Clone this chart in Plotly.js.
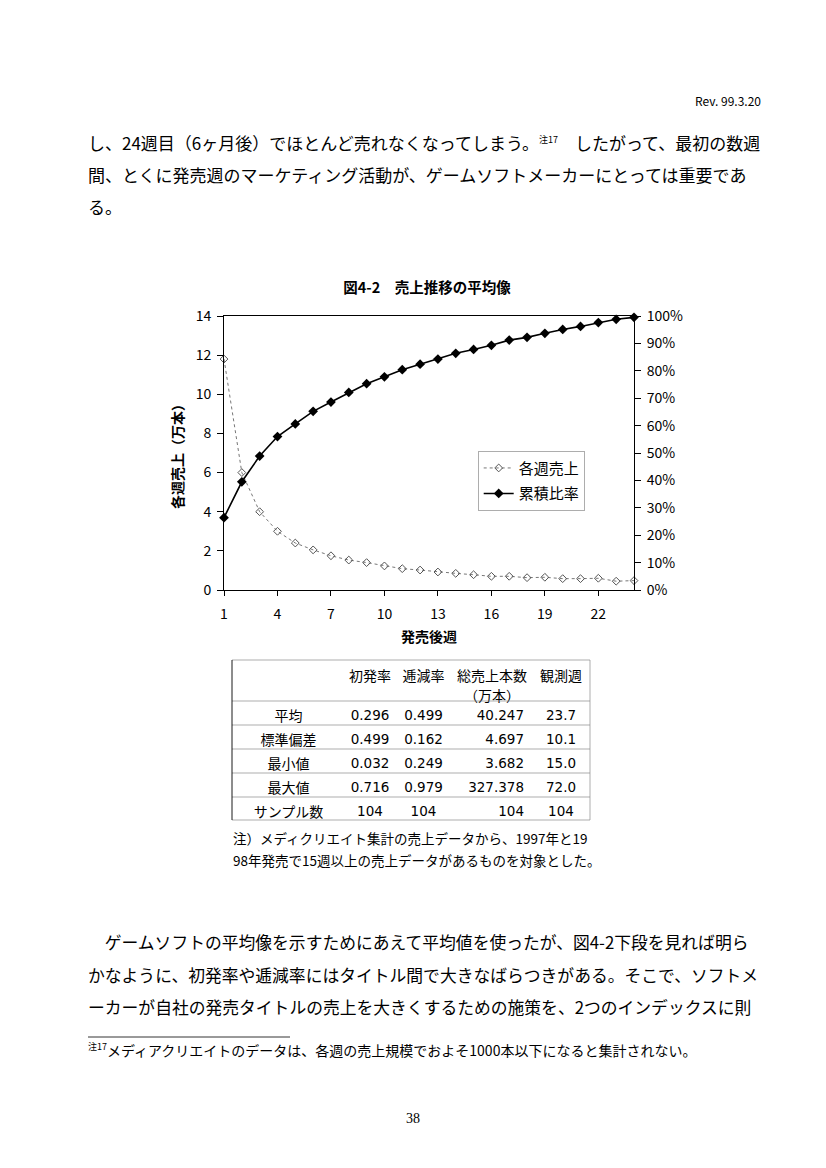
<!DOCTYPE html>
<html>
<head>
<meta charset="utf-8">
<script src="https://cdn.plot.ly/plotly-3.0.1.min.js"></script>
<style>html,body{margin:0;padding:0;background:#fff;}#chart{width:826px;height:1168px;}</style>
</head>
<body>
<div id="chart"></div>
<script>
// ---- data ----
const weeks = [1,2,3,4,5,6,7,8,9,10,11,12,13,14,15,16,17,18,19,20,21,22,23,24];
const weeklySales = [11.8,6.0,4.0,3.0,2.4,2.05,1.75,1.53,1.4,1.23,1.09,1.02,0.92,0.85,0.78,0.7,0.7,0.63,0.65,0.58,0.58,0.6,0.45,0.48];
const cumulativeRatio = [0.264,0.395,0.489,0.560,0.606,0.652,0.686,0.721,0.753,0.778,0.804,0.824,0.843,0.864,0.878,0.893,0.912,0.922,0.937,0.951,0.962,0.976,0.988,0.995];
const xTickVals = [1,4,7,10,13,16,19,22];
const leftTickVals = [0,2,4,6,8,10,12,14];
const rightTickVals = [0,0.1,0.2,0.3,0.4,0.5,0.6,0.7,0.8,0.9,1.0];
const seriesNames = ['各週売上','累積比率'];
const chartTitle = '図4-2　売上推移の平均像';
const xTitle = '発売後週';
const yTitle = '各週売上（万本）';

const headerRow1 = [' ', '初発率', '逓減率', '総売上本数', '観測週'];
const headerRow2 = [' ', ' ', ' ', '（万本）', ' '];
const rowLabels = ['平均','標準偏差','最小値','最大値','サンプル数'];
const initialRate = ['0.296','0.499','0.032','0.716','104'];
const decayRate = ['0.499','0.162','0.249','0.979','104'];
const totalSales = ['40.247','4.697','3.682','327.378','104'];
const observedWeeks = ['23.7','10.1','15.0','72.0','104'];
const tableNote = ['注）メディクリエイト集計の売上データから、1997年と19','98年発売で15週以上の売上データがあるものを対象とした。'];

const headerText = 'Rev. 99.3.20';
const SUP = t => '<sup><span style="font-size:9px">' + t + '</span></sup>';
const bodyTop = [
  'し、24週目（6ヶ月後）でほとんど売れなくなってしまう。' + SUP('注17') + '　したがって、最初の数週',
  '間、とくに発売週のマーケティング活動が、ゲームソフトメーカーにとっては重要であ',
  'る。'
];
const bodyBottom = [
  '　ゲームソフトの平均像を示すためにあえて平均値を使ったが、図4-2下段を見れば明ら',
  'かなように、初発率や逓減率にはタイトル間で大きなばらつきがある。そこで、ソフトメ',
  'ーカーが自社の発売タイトルの売上を大きくするための施策を、2つのインデックスに則'
];
const footnote = SUP('注17') + 'メディアクリエイトのデータは、各週の売上規模でおよそ1000本以下になると集計されない。';
const pageNumber = '38';

// ---- layout helpers ----
const W = 826, H = 1168;
const px = x => x / W;
const py = y => (H - y) / H;
const JP = '"Noto Sans CJK JP", "Noto Sans", sans-serif';
const NUM = '"DejaVu Sans", "Noto Sans CJK JP", sans-serif';

const traces = [
  {
    type: 'scatter', mode: 'lines+markers', name: seriesNames[0], legendgroup: 'a',
    x: weeks, y: weeklySales, xaxis: 'x', yaxis: 'y', cliponaxis: false,
    line: {color: '#777', width: 1, dash: 'dot'},
    marker: {symbol: 'diamond-open', size: 6, color: '#555', line: {width: 1}}
  },
  {
    type: 'scatter', mode: 'lines+markers', name: seriesNames[1], legendgroup: 'b',
    x: weeks, y: cumulativeRatio, xaxis: 'x', yaxis: 'y2', cliponaxis: false,
    line: {color: '#000', width: 1.6},
    marker: {symbol: 'diamond', size: 7.5, color: '#000'}
  },
  {
    type: 'table',
    domain: {x: [px(232), px(590)], y: [py(836), py(662)]},
    columnwidth: [113, 50, 57, 80, 58],
    header: {
      values: headerRow1.map((v, i) => [v, headerRow2[i]]),
      align: 'center',
      height: 20,
      fill: {color: 'rgba(0,0,0,0)'},
      line: {color: 'rgba(0,0,0,0)', width: 0},
      font: {family: JP, size: 14, color: '#000'}
    },
    cells: {
      values: [rowLabels, initialRate, decayRate, totalSales, observedWeeks],
      align: ['center','center','center','right','center'],
      height: 24,
      fill: {color: 'rgba(0,0,0,0)'},
      line: {color: 'rgba(0,0,0,0)', width: 0},
      font: {family: [JP, NUM, NUM, NUM, NUM], size: [14, 13.5, 13.5, 13.5, 13.5], color: '#000'}
    }
  }
];

const annotations = [];
annotations.push({text: headerText, x: px(763), y: py(101), xref: 'paper', yref: 'paper', xanchor: 'right', yanchor: 'middle', showarrow: false, font: {family: JP, size: 12, color: '#000'}});
bodyTop.forEach((t, i) => annotations.push({text: t, x: px(86), y: py(143 + i * 32), xref: 'paper', yref: 'paper', xanchor: 'left', yanchor: 'middle', showarrow: false, font: {family: JP, size: 17, color: '#000'}}));
bodyBottom.forEach((t, i) => annotations.push({text: t, x: px(86), y: py(942 + i * 32.5), xref: 'paper', yref: 'paper', xanchor: 'left', yanchor: 'middle', showarrow: false, font: {family: JP, size: 16.8, color: '#000'}}));
annotations.push({text: footnote, x: px(86), y: py(1050), xref: 'paper', yref: 'paper', xanchor: 'left', yanchor: 'middle', showarrow: false, font: {family: JP, size: 14, color: '#000'}});
annotations.push({text: pageNumber, x: px(413), y: py(1118), xref: 'paper', yref: 'paper', xanchor: 'center', yanchor: 'middle', showarrow: false, font: {family: '"Liberation Serif", serif', size: 14, color: '#000'}});
tableNote.forEach((t, i) => annotations.push({text: t, x: px(231), y: py(838 + i * 21.5), xref: 'paper', yref: 'paper', xanchor: 'left', yanchor: 'middle', showarrow: false, font: {family: JP, size: 13.5, color: '#000'}}));

// table rules (thin grey)
const ruleColor = '#8a8a8a';
const tableRules = [660, 701, 725, 749, 773, 797, 820].map(y => ({type: 'line', xref: 'paper', yref: 'paper', x0: px(232), x1: px(590), y0: py(y), y1: py(y), line: {color: ruleColor, width: 0.7}}));
tableRules.push({type: 'line', xref: 'paper', yref: 'paper', x0: px(232), x1: px(232), y0: py(660), y1: py(820), line: {color: '#000', width: 0.9}});
tableRules.push({type: 'line', xref: 'paper', yref: 'paper', x0: px(590), x1: px(590), y0: py(660), y1: py(820), line: {color: ruleColor, width: 0.7}});

const layout = {
  width: W, height: H,
  margin: {l: 0, r: 0, t: 0, b: 0},
  paper_bgcolor: '#fff', plot_bgcolor: '#fff',
  showlegend: true,
  font: {family: JP, color: '#000'},
  title: {text: '<b>' + chartTitle + '</b>', x: px(427), xanchor: 'center', y: py(288), yanchor: 'middle', font: {family: JP, size: 14.5, color: '#000'}},
  xaxis: {
    domain: [px(224), px(634)], range: [1, 24], anchor: 'y',
    tickvals: xTickVals, ticks: 'outside', ticklen: 5, tickcolor: '#000', ticklabelstandoff: 6,
    showline: true, linecolor: '#000', linewidth: 1, mirror: true, showgrid: false, zeroline: false,
    tickfont: {family: JP, size: 14, color: '#000'},
    title: {text: '<b>' + xTitle + '</b>', standoff: 10, font: {family: JP, size: 14, color: '#000'}}
  },
  yaxis: {
    domain: [py(590), py(316)], range: [0, 14], anchor: 'x',
    tickvals: leftTickVals, ticks: 'outside', ticklen: 6, tickcolor: '#000', ticklabelstandoff: 3,
    showline: true, linecolor: '#000', linewidth: 1, showgrid: false, zeroline: false,
    tickfont: {family: JP, size: 14, color: '#000'},
    title: {text: '<b>' + yTitle + '</b>', standoff: 8, font: {family: JP, size: 14, color: '#000'}}
  },
  yaxis2: {
    domain: [py(590), py(316)], range: [0, 1], overlaying: 'y', side: 'right', anchor: 'x',
    tickvals: rightTickVals, tickformat: '.0%', ticks: 'outside', ticklen: 6, tickcolor: '#000', ticklabelstandoff: 3,
    showline: true, linecolor: '#000', linewidth: 1, showgrid: false, zeroline: false,
    tickfont: {family: JP, size: 14, color: '#000'}
  },
  legend: {
    x: px(478), y: py(451), xanchor: 'left', yanchor: 'top',
    bgcolor: 'rgba(255,255,255,0)', bordercolor: ruleColor, borderwidth: 0.7,
    font: {family: JP, size: 15, color: '#000'},
    itemwidth: 30, tracegroupgap: 3
  },
  shapes: [
    {type: 'line', xref: 'paper', yref: 'paper', x0: px(88), x1: px(290), y0: py(1037), y1: py(1037), line: {color: '#000', width: 0.8}}
  ].concat(tableRules),
  annotations: annotations
};

Plotly.newPlot('chart', traces, layout, {displayModeBar: false, staticPlot: true});
</script>
</body>
</html>
